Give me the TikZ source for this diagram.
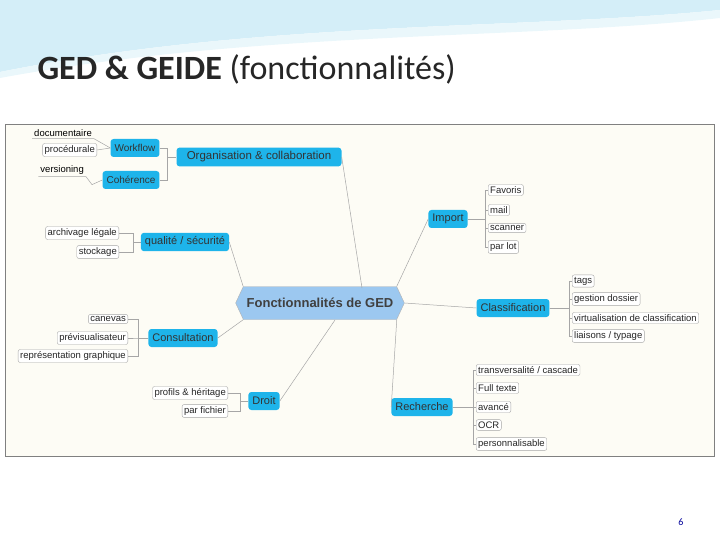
\documentclass[tikz,border=0pt]{standalone}
\usepackage{fontspec}
\setmainfont{Liberation Sans}
\newfontfamily\titlefont{Carlito}
\usetikzlibrary{shapes.symbols}
\definecolor{branchblue}{HTML}{1EB4EA}
\definecolor{coreblue}{HTML}{9CC8F0}
\definecolor{paper}{HTML}{FDFCF5}
\definecolor{titleblue}{HTML}{D4EEF8}
\tikzset{
  branch/.style={fill=branchblue, rounded corners=3pt, font=\fontsize{11}{13}\selectfont, inner sep=4pt, minimum height=18pt, text=black!80},
  leaf/.style={draw=gray!70, fill=white, rounded corners=2pt, font=\fontsize{9.5}{11}\selectfont, inner sep=2pt, text=black!85},
  link/.style={draw=gray!70, line width=0.5pt},
}
\begin{document}
\begin{tikzpicture}[x=1pt, y=-1pt]
    \useasboundingbox (0,0) rectangle (720,540);
    % header
    \fill[titleblue] (0,0) -- (720,0) -- (720,10) .. controls (520,30) and (260,20) .. (0,72) -- cycle;
    \fill[white!50!titleblue] (0,72) .. controls (260,20) and (520,30) .. (720,10) -- (720,18) .. controls (520,40) and (260,30) .. (0,78) -- cycle;
    \node[anchor=base west, font=\titlefont\fontsize{34}{40}\selectfont, text=black!85] (title) at (34,80) {\textbf{GED \& GEIDE} (fonctionnalités)};
    \draw[gray, fill=paper] (5,124) rectangle (714,456);
    \node[font=\titlefont\fontsize{10}{12}\selectfont, text=blue!60!black] (page) at (681,522) {6};
    % centre
    \node[signal, signal to=west and east, signal pointer angle=130, draw=gray!60, fill=coreblue,
          minimum width=130pt, minimum height=33pt, font=\fontsize{13}{15}\selectfont\bfseries, text=black!75] (ged) at (320,303) {Fonctionnalités de GED};
    % branches
    \node[branch, minimum width=165pt, font=\fontsize{11.5}{13}\selectfont] (org) at (259,157) {Organisation \& collaboration};
    \node[branch, font=\fontsize{10}{12}\selectfont] (wf) at (135,148) {Workflow};
    \node[branch, font=\fontsize{10}{12}\selectfont] (coh) at (131,180) {Cohérence};
    \node[branch] (qual) at (185,242) {qualité / sécurité};
    \node[branch] (imp) at (448,219) {Import};
    \node[branch] (cla) at (513,308) {Classification};
    \node[branch] (cons) at (183,338) {Consultation};
    \node[branch] (droit) at (264,401) {Droit};
    \node[branch] (rech) at (422,407) {Recherche};
    \draw[link] (org.east) -- (362,288);
    \draw[link] (imp.west) -- (ged.north east);
    \draw[link] (qual.east) -- (ged.north west);
    \draw[link] (cla.west) -- (ged.east);
    \draw[link] (cons.east) -- (ged.south west);
    \draw[link] (droit.east) -- (335,320);
    \draw[link] (rech.west) -- (ged.south east);
    \draw[link] (wf.east) -- ++(8,0) |- (org.west);
    \draw[link] (coh.east) -- ++(8,0) |- (org.west);
    % leaves
    \node[font=\fontsize{9.5}{11}\selectfont, inner sep=2pt, anchor=east] (doc) at (94,133) {documentaire};
    \draw[link] (doc.south west) -- (doc.south east) -- (wf.west);
    \node[leaf, anchor=east] (proc) at (97,150) {procédurale};
    \draw[link] (proc.east) -- (wf.west);
    \node[font=\fontsize{9.5}{11}\selectfont, inner sep=2pt, anchor=east] (vers) at (86,170) {versioning};
    \draw[link] (vers.south west) -- (vers.south east) -- ++(6,8) -- (coh.west);
    \foreach \name/\y/\txt in {arch/233/archivage légale, stock/252/stockage}
        {\node[leaf, anchor=east] (\name) at (119,\y) {\txt};
         \draw[link] (qual.west) -- ++(-8,0) |- (\name.east);}
    \foreach \name/\y/\txt in {can/319/canevas, prev/338/prévisualisateur, repr/356/représentation graphique}
        {\node[leaf, anchor=east] (\name) at (128,\y) {\txt};
         \draw[link] (cons.west) -- ++(-10,0) |- (\name.east);}
    \foreach \name/\y/\txt in {prof/393/profils \& héritage, fich/411/par fichier}
        {\node[leaf, anchor=east] (\name) at (228,\y) {\txt};
         \draw[link] (droit.west) -- ++(-8,0) |- (\name.east);}
    \foreach \name/\y/\txt in {fav/190/Favoris, mail/210/mail, scan/228/scanner, lot/247/par lot}
        {\node[leaf, anchor=west] (\name) at (488,\y) {\txt};
         \draw[link] (imp.east) -- (485,219) |- (\name.west);}
    \foreach \name/\y/\txt in {tags/281/tags, gest/299/gestion dossier, virt/318/virtualisation de classification, liai/336/{liaisons / typage}}
        {\node[leaf, anchor=west] (\name) at (572,\y) {\txt};
         \draw[link] (cla.east) -- (569,308) |- (\name.west);}
    \foreach \name/\y/\txt in {trans/370/{transversalité / cascade}, full/388/Full texte, avan/407/avancé, ocr/425/OCR, pers/444/personnalisable}
        {\node[leaf, anchor=west] (\name) at (476,\y) {\txt};
         \draw[link] (rech.east) -- (473,407) |- (\name.west);}
\end{tikzpicture}
\end{document}
